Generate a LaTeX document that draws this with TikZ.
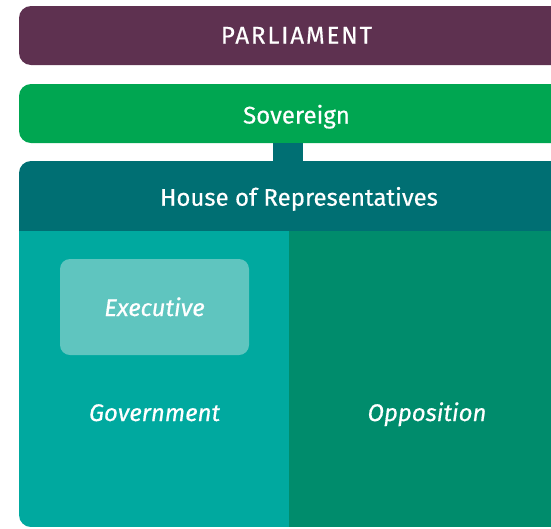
\documentclass[tikz,border=0pt]{standalone}
\usepackage{fontspec}
\setmainfont{Fira Sans}[FakeBold=0.5]
\newfontfamily\capsfont{Fira Sans}[FakeBold=0.5, LetterSpace=8]
\definecolor{parlcol}{HTML}{5E3150}
\definecolor{sovcol}{HTML}{00A651}
\definecolor{hdrcol}{HTML}{006F73}
\definecolor{govcol}{HTML}{00A99F}
\definecolor{oppcol}{HTML}{008C6C}
\definecolor{execcol}{HTML}{5FC5BF}
\tikzset{
  band/.style={rectangle, rounded corners=12pt, minimum width=556pt, minimum height=59pt,
    inner sep=0pt},
  label/.style={text=white, inner sep=0pt, anchor=base, font=\fontsize{24}{28}\selectfont},
  ilabel/.style={label, font=\fontsize{24}{28}\selectfont\itshape},
}
\begin{document}
\begin{tikzpicture}[x=1pt,y=-1pt]
\useasboundingbox (0,0) rectangle (551,528);
\clip (0,0) rectangle (551,528);

% top bands
\node[band, fill=parlcol] (parl) at (297,35.5) {};
\node[label, font=\fontsize{24}{28}\capsfont] (parll) at (296.5,43.5) {PARLIAMENT};
\node[band, fill=sovcol] (sov) at (297,113.5) {};
\node[label] (sovl) at (296.5,123.5) {Sovereign};

% House of Representatives block
\begin{scope}
  \clip[rounded corners=12pt] (19,161) rectangle (575,527);
  \fill[hdrcol] (19,161) rectangle (575,231);
  \fill[govcol] (19,231) rectangle (289,527);
  \fill[oppcol] (289,231) rectangle (575,527);
\end{scope}
\node[label] (hdr) at (299,205.7) {House of Representatives};
\path (19,161) -- (575,161) coordinate[pos=0.5] (hdrtop);

% link between Sovereign and the House
\draw[hdrcol, line width=30pt] ([xshift=-9pt]sov.south) -- ([xshift=-9pt]hdrtop);

% sides of the House
\node[rectangle, rounded corners=10pt, fill=execcol, minimum width=189pt, minimum height=96pt,
  inner sep=0pt] (exec) at (154.5,307) {};
\node[ilabel] (execl) at (154.5,316) {Executive};
\node[ilabel] (gov) at (154.5,421) {Government};
\node[ilabel] (opp) at (427,421) {Opposition};
\end{tikzpicture}
\end{document}
